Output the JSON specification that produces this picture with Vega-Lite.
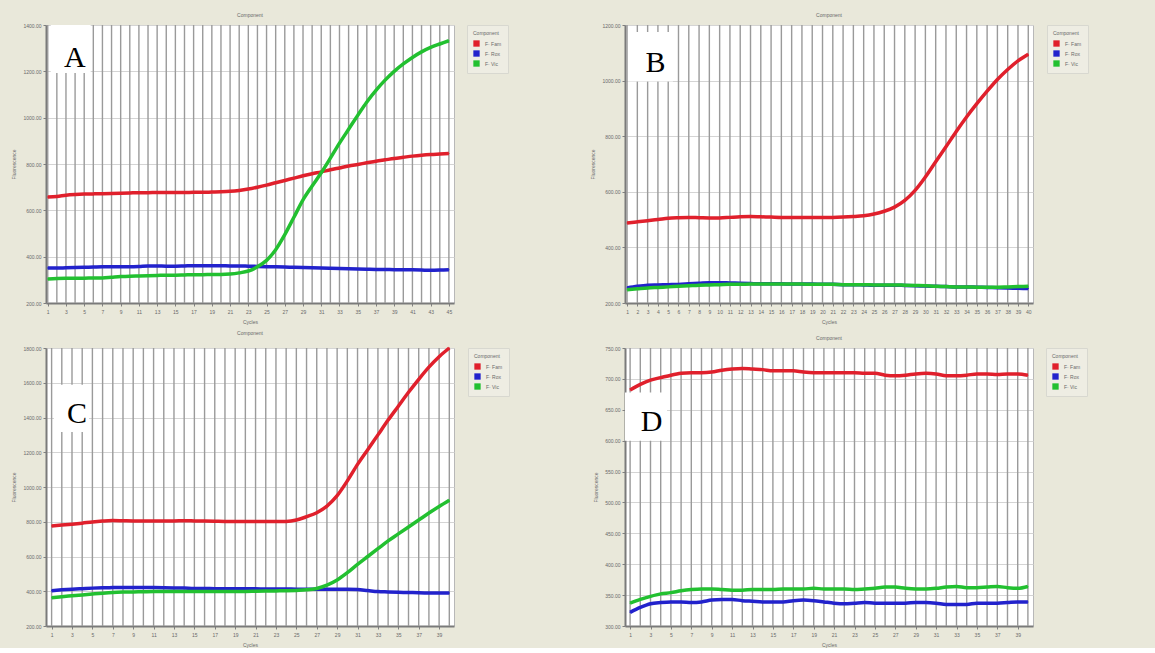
{
  "$schema": "https://vega.github.io/schema/vega-lite/v6.json",
  "background": "#E9E8DA",
  "padding": {"left": 11, "top": 12, "right": 70, "bottom": 0},
  "config": {
    "font": "Liberation Sans",
    "view": {"fill": "white", "stroke": "#B8B8B8", "strokeWidth": 1},
    "axis": {"labelFontSize": 5, "labelColor": "#6a6a6a", "titleFontSize": 5, "titleColor": "#6a6a6a", "titleFontWeight": "normal", "tickSize": 3, "tickColor": "#808080", "domainColor": "#7a7a7a", "domainWidth": 2, "labelOverlap": false, "tickCount": 100},
    "axisX": {"grid": false, "labelPadding": 3, "titlePadding": 5, "labelAngle": 0, "format": "d"},
    "axisY": {"gridColor": "#d4d4d4", "gridWidth": 1, "titlePadding": 6},
    "title": {"fontSize": 5, "color": "#6a6a6a", "fontWeight": "normal", "offset": 5},
    "legend": {"orient": "right", "offset": 11, "titleFontSize": 5, "titleFontWeight": "normal", "titleColor": "#6a6a6a", "labelFontSize": 5, "labelColor": "#6a6a6a", "symbolType": "square", "symbolSize": 40, "symbolStrokeWidth": 0, "symbolOpacity": 1, "strokeColor": "#d8d8d0", "fillColor": "#EEEDE3", "padding": 6, "rowPadding": 3, "titlePadding": 4, "labelLimit": 40, "labelOffset": 5}
  },
  "datasets": {
    "A": [
      {"cycle":1,"dye":"F· Fam","value":658},{"cycle":2,"dye":"F· Fam","value":660},{"cycle":3,"dye":"F· Fam","value":665},{"cycle":4,"dye":"F· Fam","value":668},{"cycle":5,"dye":"F· Fam","value":670},{"cycle":6,"dye":"F· Fam","value":671},{"cycle":7,"dye":"F· Fam","value":672},{"cycle":8,"dye":"F· Fam","value":673},{"cycle":9,"dye":"F· Fam","value":674},{"cycle":10,"dye":"F· Fam","value":675},{"cycle":11,"dye":"F· Fam","value":676},{"cycle":12,"dye":"F· Fam","value":676},{"cycle":13,"dye":"F· Fam","value":677},{"cycle":14,"dye":"F· Fam","value":677},{"cycle":15,"dye":"F· Fam","value":677},{"cycle":16,"dye":"F· Fam","value":677},{"cycle":17,"dye":"F· Fam","value":678},{"cycle":18,"dye":"F· Fam","value":678},{"cycle":19,"dye":"F· Fam","value":679},{"cycle":20,"dye":"F· Fam","value":680},{"cycle":21,"dye":"F· Fam","value":682},{"cycle":22,"dye":"F· Fam","value":686},{"cycle":23,"dye":"F· Fam","value":692},{"cycle":24,"dye":"F· Fam","value":700},{"cycle":25,"dye":"F· Fam","value":709},{"cycle":26,"dye":"F· Fam","value":719},{"cycle":27,"dye":"F· Fam","value":729},{"cycle":28,"dye":"F· Fam","value":739},{"cycle":29,"dye":"F· Fam","value":749},{"cycle":30,"dye":"F· Fam","value":758},{"cycle":31,"dye":"F· Fam","value":766},{"cycle":32,"dye":"F· Fam","value":775},{"cycle":33,"dye":"F· Fam","value":783},{"cycle":34,"dye":"F· Fam","value":791},{"cycle":35,"dye":"F· Fam","value":798},{"cycle":36,"dye":"F· Fam","value":805},{"cycle":37,"dye":"F· Fam","value":812},{"cycle":38,"dye":"F· Fam","value":818},{"cycle":39,"dye":"F· Fam","value":824},{"cycle":40,"dye":"F· Fam","value":829},{"cycle":41,"dye":"F· Fam","value":834},{"cycle":42,"dye":"F· Fam","value":838},{"cycle":43,"dye":"F· Fam","value":841},{"cycle":44,"dye":"F· Fam","value":843},{"cycle":45,"dye":"F· Fam","value":845},
      {"cycle":1,"dye":"F· Rox","value":351},{"cycle":2,"dye":"F· Rox","value":351},{"cycle":3,"dye":"F· Rox","value":352},{"cycle":4,"dye":"F· Rox","value":353},{"cycle":5,"dye":"F· Rox","value":354},{"cycle":6,"dye":"F· Rox","value":355},{"cycle":7,"dye":"F· Rox","value":356},{"cycle":8,"dye":"F· Rox","value":356},{"cycle":9,"dye":"F· Rox","value":357},{"cycle":10,"dye":"F· Rox","value":357},{"cycle":11,"dye":"F· Rox","value":358},{"cycle":12,"dye":"F· Rox","value":360},{"cycle":13,"dye":"F· Rox","value":360},{"cycle":14,"dye":"F· Rox","value":359},{"cycle":15,"dye":"F· Rox","value":359},{"cycle":16,"dye":"F· Rox","value":360},{"cycle":17,"dye":"F· Rox","value":361},{"cycle":18,"dye":"F· Rox","value":361},{"cycle":19,"dye":"F· Rox","value":361},{"cycle":20,"dye":"F· Rox","value":361},{"cycle":21,"dye":"F· Rox","value":360},{"cycle":22,"dye":"F· Rox","value":360},{"cycle":23,"dye":"F· Rox","value":359},{"cycle":24,"dye":"F· Rox","value":358},{"cycle":25,"dye":"F· Rox","value":357},{"cycle":26,"dye":"F· Rox","value":356},{"cycle":27,"dye":"F· Rox","value":355},{"cycle":28,"dye":"F· Rox","value":354},{"cycle":29,"dye":"F· Rox","value":353},{"cycle":30,"dye":"F· Rox","value":352},{"cycle":31,"dye":"F· Rox","value":351},{"cycle":32,"dye":"F· Rox","value":350},{"cycle":33,"dye":"F· Rox","value":349},{"cycle":34,"dye":"F· Rox","value":348},{"cycle":35,"dye":"F· Rox","value":347},{"cycle":36,"dye":"F· Rox","value":346},{"cycle":37,"dye":"F· Rox","value":345},{"cycle":38,"dye":"F· Rox","value":345},{"cycle":39,"dye":"F· Rox","value":344},{"cycle":40,"dye":"F· Rox","value":344},{"cycle":41,"dye":"F· Rox","value":343},{"cycle":42,"dye":"F· Rox","value":342},{"cycle":43,"dye":"F· Rox","value":341},{"cycle":44,"dye":"F· Rox","value":342},{"cycle":45,"dye":"F· Rox","value":344},
      {"cycle":1,"dye":"F· Vic","value":304},{"cycle":2,"dye":"F· Vic","value":306},{"cycle":3,"dye":"F· Vic","value":307},{"cycle":4,"dye":"F· Vic","value":307},{"cycle":5,"dye":"F· Vic","value":307},{"cycle":6,"dye":"F· Vic","value":308},{"cycle":7,"dye":"F· Vic","value":308},{"cycle":8,"dye":"F· Vic","value":311},{"cycle":9,"dye":"F· Vic","value":314},{"cycle":10,"dye":"F· Vic","value":316},{"cycle":11,"dye":"F· Vic","value":317},{"cycle":12,"dye":"F· Vic","value":318},{"cycle":13,"dye":"F· Vic","value":319},{"cycle":14,"dye":"F· Vic","value":320},{"cycle":15,"dye":"F· Vic","value":320},{"cycle":16,"dye":"F· Vic","value":321},{"cycle":17,"dye":"F· Vic","value":322},{"cycle":18,"dye":"F· Vic","value":322},{"cycle":19,"dye":"F· Vic","value":323},{"cycle":20,"dye":"F· Vic","value":323},{"cycle":21,"dye":"F· Vic","value":325},{"cycle":22,"dye":"F· Vic","value":330},{"cycle":23,"dye":"F· Vic","value":338},{"cycle":24,"dye":"F· Vic","value":356},{"cycle":25,"dye":"F· Vic","value":384},{"cycle":26,"dye":"F· Vic","value":430},{"cycle":27,"dye":"F· Vic","value":495},{"cycle":28,"dye":"F· Vic","value":570},{"cycle":29,"dye":"F· Vic","value":645},{"cycle":30,"dye":"F· Vic","value":705},{"cycle":31,"dye":"F· Vic","value":762},{"cycle":32,"dye":"F· Vic","value":825},{"cycle":33,"dye":"F· Vic","value":890},{"cycle":34,"dye":"F· Vic","value":950},{"cycle":35,"dye":"F· Vic","value":1010},{"cycle":36,"dye":"F· Vic","value":1068},{"cycle":37,"dye":"F· Vic","value":1118},{"cycle":38,"dye":"F· Vic","value":1162},{"cycle":39,"dye":"F· Vic","value":1200},{"cycle":40,"dye":"F· Vic","value":1232},{"cycle":41,"dye":"F· Vic","value":1260},{"cycle":42,"dye":"F· Vic","value":1284},{"cycle":43,"dye":"F· Vic","value":1303},{"cycle":44,"dye":"F· Vic","value":1318},{"cycle":45,"dye":"F· Vic","value":1332}
    ],
    "B": [
      {"cycle":1,"dye":"F· Fam","value":488},{"cycle":2,"dye":"F· Fam","value":492},{"cycle":3,"dye":"F· Fam","value":496},{"cycle":4,"dye":"F· Fam","value":500},{"cycle":5,"dye":"F· Fam","value":505},{"cycle":6,"dye":"F· Fam","value":507},{"cycle":7,"dye":"F· Fam","value":508},{"cycle":8,"dye":"F· Fam","value":507},{"cycle":9,"dye":"F· Fam","value":506},{"cycle":10,"dye":"F· Fam","value":506},{"cycle":11,"dye":"F· Fam","value":508},{"cycle":12,"dye":"F· Fam","value":510},{"cycle":13,"dye":"F· Fam","value":511},{"cycle":14,"dye":"F· Fam","value":510},{"cycle":15,"dye":"F· Fam","value":509},{"cycle":16,"dye":"F· Fam","value":508},{"cycle":17,"dye":"F· Fam","value":508},{"cycle":18,"dye":"F· Fam","value":508},{"cycle":19,"dye":"F· Fam","value":508},{"cycle":20,"dye":"F· Fam","value":508},{"cycle":21,"dye":"F· Fam","value":508},{"cycle":22,"dye":"F· Fam","value":509},{"cycle":23,"dye":"F· Fam","value":511},{"cycle":24,"dye":"F· Fam","value":514},{"cycle":25,"dye":"F· Fam","value":520},{"cycle":26,"dye":"F· Fam","value":530},{"cycle":27,"dye":"F· Fam","value":545},{"cycle":28,"dye":"F· Fam","value":569},{"cycle":29,"dye":"F· Fam","value":605},{"cycle":30,"dye":"F· Fam","value":653},{"cycle":31,"dye":"F· Fam","value":708},{"cycle":32,"dye":"F· Fam","value":762},{"cycle":33,"dye":"F· Fam","value":817},{"cycle":34,"dye":"F· Fam","value":869},{"cycle":35,"dye":"F· Fam","value":917},{"cycle":36,"dye":"F· Fam","value":962},{"cycle":37,"dye":"F· Fam","value":1004},{"cycle":38,"dye":"F· Fam","value":1040},{"cycle":39,"dye":"F· Fam","value":1071},{"cycle":40,"dye":"F· Fam","value":1095},
      {"cycle":1,"dye":"F· Rox","value":254},{"cycle":2,"dye":"F· Rox","value":260},{"cycle":3,"dye":"F· Rox","value":264},{"cycle":4,"dye":"F· Rox","value":265},{"cycle":5,"dye":"F· Rox","value":266},{"cycle":6,"dye":"F· Rox","value":267},{"cycle":7,"dye":"F· Rox","value":269},{"cycle":8,"dye":"F· Rox","value":271},{"cycle":9,"dye":"F· Rox","value":273},{"cycle":10,"dye":"F· Rox","value":273},{"cycle":11,"dye":"F· Rox","value":272},{"cycle":12,"dye":"F· Rox","value":271},{"cycle":13,"dye":"F· Rox","value":270},{"cycle":14,"dye":"F· Rox","value":269},{"cycle":15,"dye":"F· Rox","value":269},{"cycle":16,"dye":"F· Rox","value":269},{"cycle":17,"dye":"F· Rox","value":268},{"cycle":18,"dye":"F· Rox","value":268},{"cycle":19,"dye":"F· Rox","value":268},{"cycle":20,"dye":"F· Rox","value":267},{"cycle":21,"dye":"F· Rox","value":267},{"cycle":22,"dye":"F· Rox","value":266},{"cycle":23,"dye":"F· Rox","value":266},{"cycle":24,"dye":"F· Rox","value":265},{"cycle":25,"dye":"F· Rox","value":264},{"cycle":26,"dye":"F· Rox","value":264},{"cycle":27,"dye":"F· Rox","value":264},{"cycle":28,"dye":"F· Rox","value":263},{"cycle":29,"dye":"F· Rox","value":262},{"cycle":30,"dye":"F· Rox","value":261},{"cycle":31,"dye":"F· Rox","value":260},{"cycle":32,"dye":"F· Rox","value":259},{"cycle":33,"dye":"F· Rox","value":258},{"cycle":34,"dye":"F· Rox","value":258},{"cycle":35,"dye":"F· Rox","value":257},{"cycle":36,"dye":"F· Rox","value":256},{"cycle":37,"dye":"F· Rox","value":255},{"cycle":38,"dye":"F· Rox","value":254},{"cycle":39,"dye":"F· Rox","value":253},{"cycle":40,"dye":"F· Rox","value":252},
      {"cycle":1,"dye":"F· Vic","value":248},{"cycle":2,"dye":"F· Vic","value":251},{"cycle":3,"dye":"F· Vic","value":254},{"cycle":4,"dye":"F· Vic","value":256},{"cycle":5,"dye":"F· Vic","value":258},{"cycle":6,"dye":"F· Vic","value":260},{"cycle":7,"dye":"F· Vic","value":262},{"cycle":8,"dye":"F· Vic","value":264},{"cycle":9,"dye":"F· Vic","value":265},{"cycle":10,"dye":"F· Vic","value":266},{"cycle":11,"dye":"F· Vic","value":267},{"cycle":12,"dye":"F· Vic","value":267},{"cycle":13,"dye":"F· Vic","value":268},{"cycle":14,"dye":"F· Vic","value":268},{"cycle":15,"dye":"F· Vic","value":268},{"cycle":16,"dye":"F· Vic","value":268},{"cycle":17,"dye":"F· Vic","value":268},{"cycle":18,"dye":"F· Vic","value":268},{"cycle":19,"dye":"F· Vic","value":267},{"cycle":20,"dye":"F· Vic","value":267},{"cycle":21,"dye":"F· Vic","value":267},{"cycle":22,"dye":"F· Vic","value":266},{"cycle":23,"dye":"F· Vic","value":266},{"cycle":24,"dye":"F· Vic","value":266},{"cycle":25,"dye":"F· Vic","value":265},{"cycle":26,"dye":"F· Vic","value":265},{"cycle":27,"dye":"F· Vic","value":265},{"cycle":28,"dye":"F· Vic","value":264},{"cycle":29,"dye":"F· Vic","value":263},{"cycle":30,"dye":"F· Vic","value":262},{"cycle":31,"dye":"F· Vic","value":260},{"cycle":32,"dye":"F· Vic","value":259},{"cycle":33,"dye":"F· Vic","value":258},{"cycle":34,"dye":"F· Vic","value":258},{"cycle":35,"dye":"F· Vic","value":257},{"cycle":36,"dye":"F· Vic","value":257},{"cycle":37,"dye":"F· Vic","value":257},{"cycle":38,"dye":"F· Vic","value":258},{"cycle":39,"dye":"F· Vic","value":259},{"cycle":40,"dye":"F· Vic","value":260}
    ],
    "C": [
      {"cycle":1,"dye":"F· Fam","value":776},{"cycle":2,"dye":"F· Fam","value":781},{"cycle":3,"dye":"F· Fam","value":786},{"cycle":4,"dye":"F· Fam","value":792},{"cycle":5,"dye":"F· Fam","value":799},{"cycle":6,"dye":"F· Fam","value":804},{"cycle":7,"dye":"F· Fam","value":807},{"cycle":8,"dye":"F· Fam","value":806},{"cycle":9,"dye":"F· Fam","value":805},{"cycle":10,"dye":"F· Fam","value":805},{"cycle":11,"dye":"F· Fam","value":805},{"cycle":12,"dye":"F· Fam","value":805},{"cycle":13,"dye":"F· Fam","value":805},{"cycle":14,"dye":"F· Fam","value":806},{"cycle":15,"dye":"F· Fam","value":805},{"cycle":16,"dye":"F· Fam","value":804},{"cycle":17,"dye":"F· Fam","value":803},{"cycle":18,"dye":"F· Fam","value":802},{"cycle":19,"dye":"F· Fam","value":802},{"cycle":20,"dye":"F· Fam","value":801},{"cycle":21,"dye":"F· Fam","value":801},{"cycle":22,"dye":"F· Fam","value":801},{"cycle":23,"dye":"F· Fam","value":801},{"cycle":24,"dye":"F· Fam","value":802},{"cycle":25,"dye":"F· Fam","value":810},{"cycle":26,"dye":"F· Fam","value":829},{"cycle":27,"dye":"F· Fam","value":852},{"cycle":28,"dye":"F· Fam","value":890},{"cycle":29,"dye":"F· Fam","value":950},{"cycle":30,"dye":"F· Fam","value":1035},{"cycle":31,"dye":"F· Fam","value":1130},{"cycle":32,"dye":"F· Fam","value":1215},{"cycle":33,"dye":"F· Fam","value":1300},{"cycle":34,"dye":"F· Fam","value":1385},{"cycle":35,"dye":"F· Fam","value":1465},{"cycle":36,"dye":"F· Fam","value":1545},{"cycle":37,"dye":"F· Fam","value":1620},{"cycle":38,"dye":"F· Fam","value":1690},{"cycle":39,"dye":"F· Fam","value":1750},{"cycle":40,"dye":"F· Fam","value":1800},
      {"cycle":1,"dye":"F· Rox","value":403},{"cycle":2,"dye":"F· Rox","value":408},{"cycle":3,"dye":"F· Rox","value":412},{"cycle":4,"dye":"F· Rox","value":415},{"cycle":5,"dye":"F· Rox","value":418},{"cycle":6,"dye":"F· Rox","value":420},{"cycle":7,"dye":"F· Rox","value":421},{"cycle":8,"dye":"F· Rox","value":422},{"cycle":9,"dye":"F· Rox","value":422},{"cycle":10,"dye":"F· Rox","value":422},{"cycle":11,"dye":"F· Rox","value":421},{"cycle":12,"dye":"F· Rox","value":420},{"cycle":13,"dye":"F· Rox","value":419},{"cycle":14,"dye":"F· Rox","value":418},{"cycle":15,"dye":"F· Rox","value":416},{"cycle":16,"dye":"F· Rox","value":416},{"cycle":17,"dye":"F· Rox","value":415},{"cycle":18,"dye":"F· Rox","value":415},{"cycle":19,"dye":"F· Rox","value":414},{"cycle":20,"dye":"F· Rox","value":414},{"cycle":21,"dye":"F· Rox","value":414},{"cycle":22,"dye":"F· Rox","value":413},{"cycle":23,"dye":"F· Rox","value":413},{"cycle":24,"dye":"F· Rox","value":413},{"cycle":25,"dye":"F· Rox","value":412},{"cycle":26,"dye":"F· Rox","value":412},{"cycle":27,"dye":"F· Rox","value":412},{"cycle":28,"dye":"F· Rox","value":412},{"cycle":29,"dye":"F· Rox","value":412},{"cycle":30,"dye":"F· Rox","value":412},{"cycle":31,"dye":"F· Rox","value":410},{"cycle":32,"dye":"F· Rox","value":404},{"cycle":33,"dye":"F· Rox","value":398},{"cycle":34,"dye":"F· Rox","value":396},{"cycle":35,"dye":"F· Rox","value":394},{"cycle":36,"dye":"F· Rox","value":393},{"cycle":37,"dye":"F· Rox","value":391},{"cycle":38,"dye":"F· Rox","value":390},{"cycle":39,"dye":"F· Rox","value":390},{"cycle":40,"dye":"F· Rox","value":390},
      {"cycle":1,"dye":"F· Vic","value":363},{"cycle":2,"dye":"F· Vic","value":369},{"cycle":3,"dye":"F· Vic","value":374},{"cycle":4,"dye":"F· Vic","value":379},{"cycle":5,"dye":"F· Vic","value":384},{"cycle":6,"dye":"F· Vic","value":389},{"cycle":7,"dye":"F· Vic","value":393},{"cycle":8,"dye":"F· Vic","value":395},{"cycle":9,"dye":"F· Vic","value":396},{"cycle":10,"dye":"F· Vic","value":397},{"cycle":11,"dye":"F· Vic","value":398},{"cycle":12,"dye":"F· Vic","value":398},{"cycle":13,"dye":"F· Vic","value":399},{"cycle":14,"dye":"F· Vic","value":399},{"cycle":15,"dye":"F· Vic","value":399},{"cycle":16,"dye":"F· Vic","value":399},{"cycle":17,"dye":"F· Vic","value":399},{"cycle":18,"dye":"F· Vic","value":399},{"cycle":19,"dye":"F· Vic","value":399},{"cycle":20,"dye":"F· Vic","value":399},{"cycle":21,"dye":"F· Vic","value":400},{"cycle":22,"dye":"F· Vic","value":401},{"cycle":23,"dye":"F· Vic","value":402},{"cycle":24,"dye":"F· Vic","value":403},{"cycle":25,"dye":"F· Vic","value":405},{"cycle":26,"dye":"F· Vic","value":408},{"cycle":27,"dye":"F· Vic","value":416},{"cycle":28,"dye":"F· Vic","value":435},{"cycle":29,"dye":"F· Vic","value":465},{"cycle":30,"dye":"F· Vic","value":507},{"cycle":31,"dye":"F· Vic","value":555},{"cycle":32,"dye":"F· Vic","value":600},{"cycle":33,"dye":"F· Vic","value":645},{"cycle":34,"dye":"F· Vic","value":690},{"cycle":35,"dye":"F· Vic","value":730},{"cycle":36,"dye":"F· Vic","value":770},{"cycle":37,"dye":"F· Vic","value":810},{"cycle":38,"dye":"F· Vic","value":850},{"cycle":39,"dye":"F· Vic","value":888},{"cycle":40,"dye":"F· Vic","value":924}
    ],
    "D": [
      {"cycle":1,"dye":"F· Fam","value":682},{"cycle":2,"dye":"F· Fam","value":691},{"cycle":3,"dye":"F· Fam","value":698},{"cycle":4,"dye":"F· Fam","value":702},{"cycle":5,"dye":"F· Fam","value":706},{"cycle":6,"dye":"F· Fam","value":709},{"cycle":7,"dye":"F· Fam","value":710},{"cycle":8,"dye":"F· Fam","value":710},{"cycle":9,"dye":"F· Fam","value":711},{"cycle":10,"dye":"F· Fam","value":714},{"cycle":11,"dye":"F· Fam","value":716},{"cycle":12,"dye":"F· Fam","value":717},{"cycle":13,"dye":"F· Fam","value":716},{"cycle":14,"dye":"F· Fam","value":715},{"cycle":15,"dye":"F· Fam","value":713},{"cycle":16,"dye":"F· Fam","value":713},{"cycle":17,"dye":"F· Fam","value":713},{"cycle":18,"dye":"F· Fam","value":711},{"cycle":19,"dye":"F· Fam","value":710},{"cycle":20,"dye":"F· Fam","value":710},{"cycle":21,"dye":"F· Fam","value":710},{"cycle":22,"dye":"F· Fam","value":710},{"cycle":23,"dye":"F· Fam","value":710},{"cycle":24,"dye":"F· Fam","value":709},{"cycle":25,"dye":"F· Fam","value":709},{"cycle":26,"dye":"F· Fam","value":706},{"cycle":27,"dye":"F· Fam","value":705},{"cycle":28,"dye":"F· Fam","value":706},{"cycle":29,"dye":"F· Fam","value":708},{"cycle":30,"dye":"F· Fam","value":709},{"cycle":31,"dye":"F· Fam","value":708},{"cycle":32,"dye":"F· Fam","value":705},{"cycle":33,"dye":"F· Fam","value":705},{"cycle":34,"dye":"F· Fam","value":706},{"cycle":35,"dye":"F· Fam","value":708},{"cycle":36,"dye":"F· Fam","value":708},{"cycle":37,"dye":"F· Fam","value":707},{"cycle":38,"dye":"F· Fam","value":708},{"cycle":39,"dye":"F· Fam","value":708},{"cycle":40,"dye":"F· Fam","value":706},
      {"cycle":1,"dye":"F· Rox","value":322},{"cycle":2,"dye":"F· Rox","value":330},{"cycle":3,"dye":"F· Rox","value":336},{"cycle":4,"dye":"F· Rox","value":338},{"cycle":5,"dye":"F· Rox","value":339},{"cycle":6,"dye":"F· Rox","value":339},{"cycle":7,"dye":"F· Rox","value":338},{"cycle":8,"dye":"F· Rox","value":339},{"cycle":9,"dye":"F· Rox","value":342},{"cycle":10,"dye":"F· Rox","value":343},{"cycle":11,"dye":"F· Rox","value":343},{"cycle":12,"dye":"F· Rox","value":341},{"cycle":13,"dye":"F· Rox","value":340},{"cycle":14,"dye":"F· Rox","value":339},{"cycle":15,"dye":"F· Rox","value":339},{"cycle":16,"dye":"F· Rox","value":339},{"cycle":17,"dye":"F· Rox","value":341},{"cycle":18,"dye":"F· Rox","value":342},{"cycle":19,"dye":"F· Rox","value":341},{"cycle":20,"dye":"F· Rox","value":339},{"cycle":21,"dye":"F· Rox","value":337},{"cycle":22,"dye":"F· Rox","value":336},{"cycle":23,"dye":"F· Rox","value":337},{"cycle":24,"dye":"F· Rox","value":338},{"cycle":25,"dye":"F· Rox","value":337},{"cycle":26,"dye":"F· Rox","value":337},{"cycle":27,"dye":"F· Rox","value":337},{"cycle":28,"dye":"F· Rox","value":337},{"cycle":29,"dye":"F· Rox","value":338},{"cycle":30,"dye":"F· Rox","value":338},{"cycle":31,"dye":"F· Rox","value":337},{"cycle":32,"dye":"F· Rox","value":335},{"cycle":33,"dye":"F· Rox","value":335},{"cycle":34,"dye":"F· Rox","value":335},{"cycle":35,"dye":"F· Rox","value":337},{"cycle":36,"dye":"F· Rox","value":337},{"cycle":37,"dye":"F· Rox","value":337},{"cycle":38,"dye":"F· Rox","value":338},{"cycle":39,"dye":"F· Rox","value":339},{"cycle":40,"dye":"F· Rox","value":339},
      {"cycle":1,"dye":"F· Vic","value":337},{"cycle":2,"dye":"F· Vic","value":343},{"cycle":3,"dye":"F· Vic","value":348},{"cycle":4,"dye":"F· Vic","value":352},{"cycle":5,"dye":"F· Vic","value":354},{"cycle":6,"dye":"F· Vic","value":357},{"cycle":7,"dye":"F· Vic","value":359},{"cycle":8,"dye":"F· Vic","value":360},{"cycle":9,"dye":"F· Vic","value":360},{"cycle":10,"dye":"F· Vic","value":359},{"cycle":11,"dye":"F· Vic","value":358},{"cycle":12,"dye":"F· Vic","value":358},{"cycle":13,"dye":"F· Vic","value":359},{"cycle":14,"dye":"F· Vic","value":359},{"cycle":15,"dye":"F· Vic","value":359},{"cycle":16,"dye":"F· Vic","value":360},{"cycle":17,"dye":"F· Vic","value":360},{"cycle":18,"dye":"F· Vic","value":360},{"cycle":19,"dye":"F· Vic","value":361},{"cycle":20,"dye":"F· Vic","value":360},{"cycle":21,"dye":"F· Vic","value":360},{"cycle":22,"dye":"F· Vic","value":360},{"cycle":23,"dye":"F· Vic","value":359},{"cycle":24,"dye":"F· Vic","value":360},{"cycle":25,"dye":"F· Vic","value":361},{"cycle":26,"dye":"F· Vic","value":363},{"cycle":27,"dye":"F· Vic","value":363},{"cycle":28,"dye":"F· Vic","value":361},{"cycle":29,"dye":"F· Vic","value":360},{"cycle":30,"dye":"F· Vic","value":360},{"cycle":31,"dye":"F· Vic","value":361},{"cycle":32,"dye":"F· Vic","value":363},{"cycle":33,"dye":"F· Vic","value":364},{"cycle":34,"dye":"F· Vic","value":362},{"cycle":35,"dye":"F· Vic","value":362},{"cycle":36,"dye":"F· Vic","value":363},{"cycle":37,"dye":"F· Vic","value":364},{"cycle":38,"dye":"F· Vic","value":362},{"cycle":39,"dye":"F· Vic","value":361},{"cycle":40,"dye":"F· Vic","value":364}
    ]
  },
  "columns": 2,
  "spacing": {"row": 5, "column": 80},
  "resolve": {"scale": {"x": "independent", "y": "independent", "color": "independent"}, "legend": {"color": "independent"}},
  "concat": [
    {
      "title": "Component",
      "width": 408, "height": 278,
      "layer": [
        {"data": {"name": "A"}, "transform": [{"filter": "datum.dye == 'F· Fam'"}], "mark": {"type": "rule", "color": "#9a9a9a", "strokeWidth": 1.4},
         "encoding": {"x": {"field": "cycle", "type": "quantitative"}}},
        {"data": {"name": "A"}, "mark": {"type": "square", "size": 1, "filled": true, "opacity": 1},
         "encoding": {"x": {"field": "cycle", "type": "quantitative"}, "y": {"field": "value", "type": "quantitative"},
           "color": {"field": "dye", "type": "nominal", "scale": {"domain": ["F· Fam", "F· Rox", "F· Vic"], "range": ["#E0202C", "#2222CC", "#22C030"]}, "legend": {"title": "Component"}}}},
        {"data": {"name": "A"}, "mark": {"type": "line", "strokeWidth": 3.5, "interpolate": "monotone"},
         "encoding": {
           "x": {"field": "cycle", "type": "quantitative", "scale": {"domain": [0.81, 45.56], "nice": false, "zero": false},
                 "axis": {"title": "Cycles", "values": [1,3,5,7,9,11,13,15,17,19,21,23,25,27,29,31,33,35,37,39,41,43,45]}},
           "y": {"field": "value", "type": "quantitative", "scale": {"domain": [200, 1400], "nice": false, "zero": false},
                 "axis": {"title": "Fluorescence", "values": [200,400,600,800,1000,1200,1400], "format": ".2f"}},
           "color": {"field": "dye", "type": "nominal", "legend": {"title": "Component"}}
         }},
        {"data": {"values": [{}]}, "mark": {"type": "rect", "fill": "white"},
         "encoding": {"x": {"datum": 1.33}, "x2": {"datum": 5.71}, "y": {"datum": 1400}, "y2": {"datum": 1193}}},
        {"data": {"values": [{}]}, "mark": {"type": "text", "text": "A", "font": "Liberation Serif", "fontSize": 30, "align": "center", "baseline": "alphabetic", "color": "black"},
         "encoding": {"x": {"datum": 3.96}, "y": {"datum": 1219}}}
      ]
    },
    {
      "title": "Component",
      "width": 408, "height": 278,
      "layer": [
        {"data": {"name": "B"}, "transform": [{"filter": "datum.dye == 'F· Fam'"}], "mark": {"type": "rule", "color": "#9a9a9a", "strokeWidth": 1.4},
         "encoding": {"x": {"field": "cycle", "type": "quantitative"}}},
        {"data": {"name": "B"}, "mark": {"type": "square", "size": 1, "filled": true, "opacity": 1},
         "encoding": {"x": {"field": "cycle", "type": "quantitative"}, "y": {"field": "value", "type": "quantitative"},
           "color": {"field": "dye", "type": "nominal", "scale": {"domain": ["F· Fam", "F· Rox", "F· Vic"], "range": ["#E0202C", "#2222CC", "#22C030"]}, "legend": {"title": "Component"}}}},
        {"data": {"name": "B"}, "mark": {"type": "line", "strokeWidth": 3.5, "interpolate": "monotone"},
         "encoding": {
           "x": {"field": "cycle", "type": "quantitative", "scale": {"domain": [0.8, 40.46], "nice": false, "zero": false},
                 "axis": {"title": "Cycles", "values": [1,2,3,4,5,6,7,8,9,10,11,12,13,14,15,16,17,18,19,20,21,22,23,24,25,26,27,28,29,30,31,32,33,34,35,36,37,38,39,40]}},
           "y": {"field": "value", "type": "quantitative", "scale": {"domain": [200, 1200], "nice": false, "zero": false},
                 "axis": {"title": "Fluorescence", "values": [200,400,600,800,1000,1200], "format": ".2f"}},
           "color": {"field": "dye", "type": "nominal", "legend": {"title": "Component"}}
         }},
        {"data": {"values": [{}]}, "mark": {"type": "rect", "fill": "white"},
         "encoding": {"x": {"datum": 1.09}, "x2": {"datum": 5.46}, "y": {"datum": 1175}, "y2": {"datum": 997}}},
        {"data": {"values": [{}]}, "mark": {"type": "text", "text": "B", "font": "Liberation Serif", "fontSize": 30, "align": "center", "baseline": "alphabetic", "color": "black"},
         "encoding": {"x": {"datum": 3.76}, "y": {"datum": 1030}}}
      ]
    },
    {
      "title": "Component",
      "width": 408, "height": 278,
      "layer": [
        {"data": {"name": "C"}, "transform": [{"filter": "datum.dye == 'F· Fam'"}], "mark": {"type": "rule", "color": "#9a9a9a", "strokeWidth": 1.4},
         "encoding": {"x": {"field": "cycle", "type": "quantitative"}}},
        {"data": {"name": "C"}, "mark": {"type": "square", "size": 1, "filled": true, "opacity": 1},
         "encoding": {"x": {"field": "cycle", "type": "quantitative"}, "y": {"field": "value", "type": "quantitative"},
           "color": {"field": "dye", "type": "nominal", "scale": {"domain": ["F· Fam", "F· Rox", "F· Vic"], "range": ["#E0202C", "#2222CC", "#22C030"]}, "legend": {"title": "Component"}}}},
        {"data": {"name": "C"}, "mark": {"type": "line", "strokeWidth": 3.5, "interpolate": "monotone"},
         "encoding": {
           "x": {"field": "cycle", "type": "quantitative", "scale": {"domain": [0.45, 40.46], "nice": false, "zero": false},
                 "axis": {"title": "Cycles", "values": [1,3,5,7,9,11,13,15,17,19,21,23,25,27,29,31,33,35,37,39]}},
           "y": {"field": "value", "type": "quantitative", "scale": {"domain": [200, 1800], "nice": false, "zero": false},
                 "axis": {"title": "Fluorescence", "values": [200,400,600,800,1000,1200,1400,1600,1800], "format": ".2f"}},
           "color": {"field": "dye", "type": "nominal", "legend": {"title": "Component"}}
         }},
        {"data": {"values": [{}]}, "mark": {"type": "rect", "fill": "white"},
         "encoding": {"x": {"datum": 1.23}, "x2": {"datum": 4.67}, "y": {"datum": 1589}, "y2": {"datum": 1316}}},
        {"data": {"values": [{}]}, "mark": {"type": "text", "text": "C", "font": "Liberation Serif", "fontSize": 30, "align": "center", "baseline": "alphabetic", "color": "black"},
         "encoding": {"x": {"datum": 3.49}, "y": {"datum": 1367}}}
      ]
    },
    {
      "title": "Component",
      "width": 408, "height": 278,
      "layer": [
        {"data": {"name": "D"}, "transform": [{"filter": "datum.dye == 'F· Fam'"}], "mark": {"type": "rule", "color": "#9a9a9a", "strokeWidth": 1.4},
         "encoding": {"x": {"field": "cycle", "type": "quantitative"}}},
        {"data": {"name": "D"}, "mark": {"type": "square", "size": 1, "filled": true, "opacity": 1},
         "encoding": {"x": {"field": "cycle", "type": "quantitative"}, "y": {"field": "value", "type": "quantitative"},
           "color": {"field": "dye", "type": "nominal", "scale": {"domain": ["F· Fam", "F· Rox", "F· Vic"], "range": ["#E0202C", "#2222CC", "#22C030"]}, "legend": {"title": "Component"}}}},
        {"data": {"name": "D"}, "mark": {"type": "line", "strokeWidth": 3.5, "interpolate": "monotone"},
         "encoding": {
           "x": {"field": "cycle", "type": "quantitative", "scale": {"domain": [0.5, 40.5], "nice": false, "zero": false},
                 "axis": {"title": "Cycles", "values": [1,3,5,7,9,11,13,15,17,19,21,23,25,27,29,31,33,35,37,39]}},
           "y": {"field": "value", "type": "quantitative", "scale": {"domain": [300, 750], "nice": false, "zero": false},
                 "axis": {"title": "Fluorescence", "values": [300,350,400,450,500,550,600,650,700,750], "format": ".2f"}},
           "color": {"field": "dye", "type": "nominal", "legend": {"title": "Component"}}
         }},
        {"data": {"values": [{}]}, "mark": {"type": "rect", "fill": "white"},
         "encoding": {"x": {"datum": 0.5}, "x2": {"datum": 4.62}, "y": {"datum": 678}, "y2": {"datum": 600}}},
        {"data": {"values": [{}]}, "mark": {"type": "text", "text": "D", "font": "Liberation Serif", "fontSize": 30, "align": "center", "baseline": "alphabetic", "color": "black"},
         "encoding": {"x": {"datum": 3.1}, "y": {"datum": 615}}}
      ]
    }
  ]
}
